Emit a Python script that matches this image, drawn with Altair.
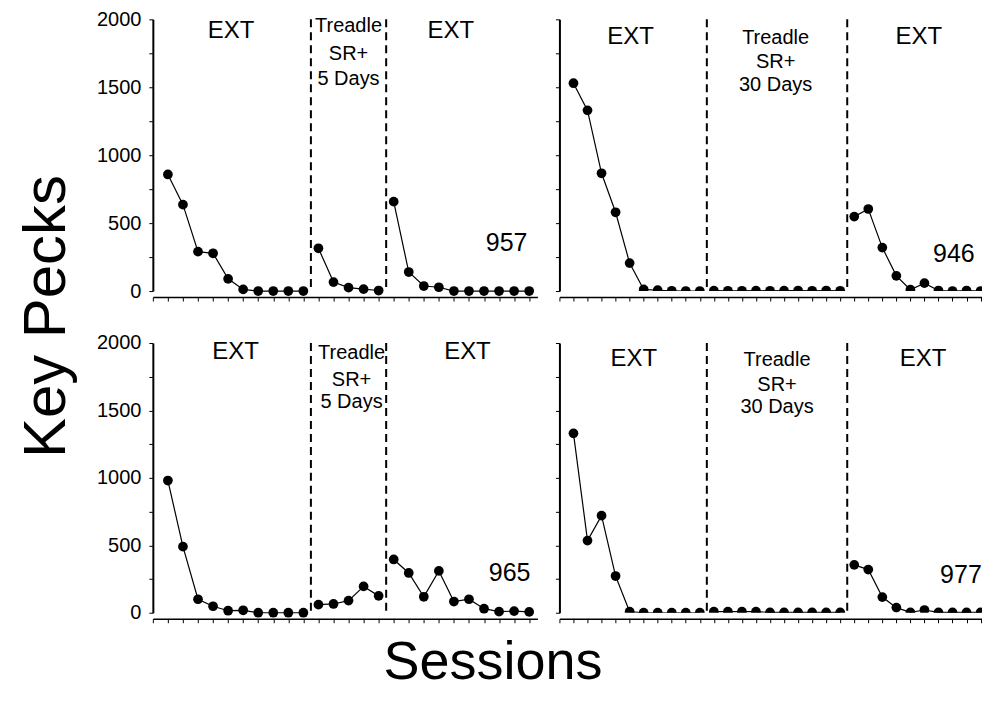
import altair as alt
import pandas as pd

FONT = "Liberation Sans"

# ---- data (key pecks per session) ----
tl_ext1 = [858, 636, 290, 278, 90, 12, 0, 0, 0, 0]
tl_tread = [315, 66, 25, 14, 4]
tl_ext2 = [658, 140, 37, 28, 0, 0, 0, 0, 0, 0]

tr_ext1 = [1530, 1330, 867, 580, 206, 12, 6, 2, 0, 0]
tr_tread = [3, 2, 2, 3, 2, 3, 4, 2, 4, 2]
tr_ext2 = [548, 604, 320, 112, 10, 58, 4, 0, 4, 0]

bl_ext1 = [980, 490, 100, 48, 15, 18, 0, 0, 0, 0]
bl_tread = [60, 65, 90, 195, 125]
bl_ext2 = [395, 295, 118, 310, 83, 100, 30, 8, 12, 6]

br_ext1 = [1330, 535, 720, 272, 8, 0, 0, 0, 0, 0]
br_tread = [8, 8, 8, 8, 2, 2, 2, 2, 2, 2]
br_ext2 = [355, 320, 116, 38, 3, 20, 2, 2, 2, 2]

ext_label = "EXT"
treadle_5 = ["Treadle", "SR+", "5 Days"]
treadle_30 = ["Treadle", "SR+", "30 Days"]
subjects = ["957", "946", "965", "977"]
y_ticks = list(range(0, 2001, 250))


def panel(ext1, tread, ext2, treadle_text, subject, width, height, xmax,
          show_labels, clip, ann_pos, y_title=None, x_title=None):
    rows = []
    s = 1
    for ph, vals in (("A", ext1), ("B", tread), ("C", ext2)):
        for v in vals:
            rows.append({"session": s, "pecks": v, "phase": ph})
            s += 1
    n = s - 1
    df = pd.DataFrame(rows)
    bounds = pd.DataFrame({"b": [len(ext1) + 0.5, len(ext1) + len(tread) + 0.5]})

    (e1x, e2x, ey, tx, tys, idx, idy) = ann_pos
    trows = [
        {"tx": e1x, "ty": ey, "label": ext_label, "fs": 24},
        {"tx": e2x, "ty": ey, "label": ext_label, "fs": 24},
        {"tx": idx, "ty": idy, "label": subject, "fs": 25},
    ]
    for line, ty in zip(treadle_text, tys):
        trows.append({"tx": tx, "ty": ty, "label": line, "fs": 20})
    tdf = pd.DataFrame(trows)

    xscale = alt.Scale(domain=[0, xmax], nice=False, zero=False)
    yscale = alt.Scale(domain=[0, 2000], nice=False, zero=False)

    xaxis_kw = dict(values=list(range(0, n + 1)), labels=False, tickSize=4,
                    offset=6, domainWidth=1.5, tickWidth=1, domainColor="black",
                    tickColor="black", grid=False)
    if x_title:
        xaxis_kw.update(title=x_title, titleFont=FONT, titleFontSize=54,
                        titleFontWeight="normal", titleColor="black",
                        titleX=340, titleY=60, titleBaseline="alphabetic",
                        titleAlign="center")
    else:
        xaxis_kw.update(title=None)

    yaxis_kw = dict(values=y_ticks, labels=show_labels, tickSize=4,
                    domainWidth=2, tickWidth=1, domainColor="black",
                    tickColor="black", grid=False, labelFont=FONT,
                    labelFontSize=20, labelColor="black", labelPadding=8,
                    labelExpr="datum.value % 500 === 0 ? format(datum.value, 'd') : ''")
    if y_title:
        yaxis_kw.update(title=y_title, titleFont=FONT, titleFontSize=60,
                        titleFontWeight="normal", titleColor="black",
                        titleX=-88, titleY=297, titleAngle=270,
                        titleBaseline="alphabetic", titleAlign="center")
    else:
        yaxis_kw.update(title=None)

    xaxis = alt.Axis(**xaxis_kw)
    yaxis = alt.Axis(**yaxis_kw)

    def X(f):
        return alt.X(f, type="quantitative", scale=xscale, axis=xaxis)

    def Y(f):
        return alt.Y(f, type="quantitative", scale=yscale, axis=yaxis)

    rules = alt.Chart(bounds).mark_rule(
        color="black", strokeWidth=2, strokeDash=[8, 5]
    ).encode(x=X("b"))

    line = alt.Chart(df).mark_line(color="black", strokeWidth=1.2, clip=clip).encode(
        x=X("session"), y=Y("pecks"), detail="phase:N"
    )
    pts = alt.Chart(df).mark_circle(color="black", size=95, opacity=1, clip=clip).encode(
        x=X("session"), y=Y("pecks")
    )
    txt = alt.Chart(tdf).mark_text(
        font=FONT, color="black", align="center", baseline="alphabetic"
    ).encode(
        x=X("tx"), y=Y("ty"), text="label:N",
        size=alt.Size("fs:Q", scale=None, legend=None),
    )
    return alt.layer(rules, line, pts, txt).properties(width=width, height=height)


TL = panel(tl_ext1, tl_tread, tl_ext2, treadle_5, subjects[0], 385, 272, 25.55,
           True, False,
           (5.2, 19.8, 1860, 13.0, [1905, 1700, 1515], 23.5, 294),
           y_title="Key Pecks")
TR = panel(tr_ext1, tr_tread, tr_ext2, treadle_30, subjects[1], 423, 272, 30.1,
           False, True,
           (5.07, 25.6, 1816, 15.4, [1816, 1640, 1470], 28.1, 213))
BL = panel(bl_ext1, bl_tread, bl_ext2, treadle_5, subjects[2], 385, 270, 25.55,
           True, False,
           (5.5, 20.9, 1881, 13.2, [1881, 1681, 1519], 23.7, 237),
           x_title="Sessions")
BR = panel(br_ext1, br_tread, br_ext2, treadle_30, subjects[3], 423, 270, 30.1,
           False, True,
           (5.3, 25.9, 1830, 15.5, [1830, 1644, 1481], 28.6, 222))

chart = alt.concat(
    TL, TR, BL, BR, columns=2, spacing={"row": 52, "column": 22}, bounds="flush"
).properties(
    padding={"left": 17, "top": 9, "right": 0, "bottom": 5},
    background="white",
).configure_view(stroke=None)

chart.save("out.html", embed_options={"renderer": "svg", "actions": False})
